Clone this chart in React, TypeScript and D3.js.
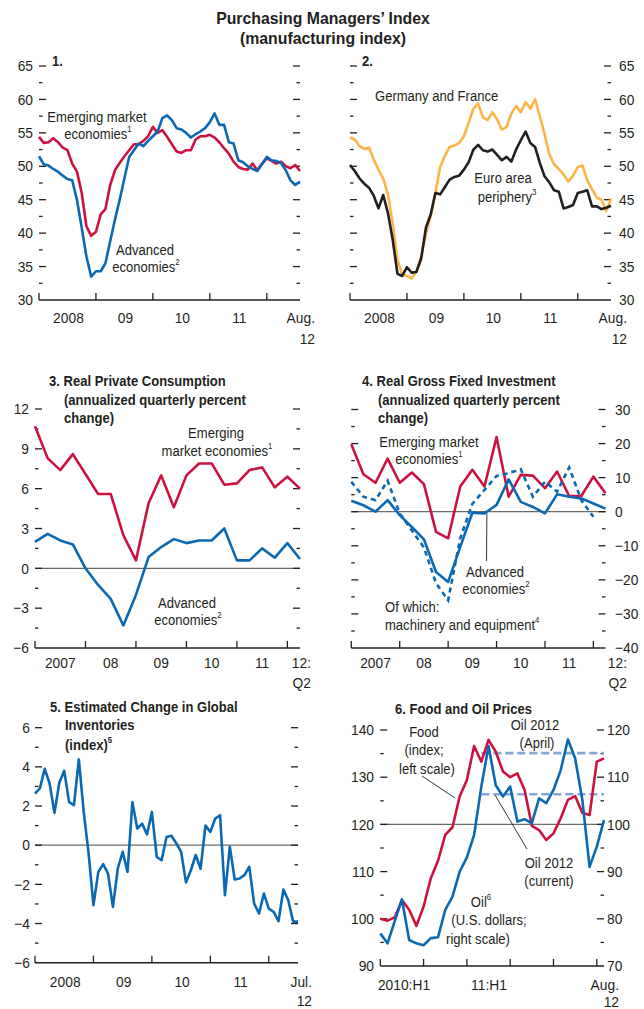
import React from 'react';
import * as d3 from 'd3';

const FONT = "'Liberation Sans', Arial, sans-serif";
const RED = '#CC1340';
const BLUE = '#0B69B3';
const ORANGE = '#FBB448';
const BLACK = '#231F20';
const LIGHTBLUE = '#86A6D9';
const TXT = '#231F20';
const GRID = '#6b6b6b';

// Panel 1 & 2: monthly, Jan 2008 – Aug 2012
const PMI_X_LABELS = ['2008', '09', '10', '11'];
const PMI_ADV = [51.5, 50.3, 50.1, 49.6, 49.2, 48.6, 48.1, 47.9, 45.0, 40.8, 36.5, 33.5, 34.3, 34.3, 35.5, 38.8, 42.0, 45.0, 48.2, 51.4,
  52.4, 53.4, 53.0, 53.8, 54.5, 55.2, 57.2, 57.6, 56.9, 55.7, 55.5, 55.0, 54.3, 54.8, 55.2, 55.7, 56.6, 57.9, 56.2, 56.2,
  53.6, 53.4, 50.9, 50.6, 50.0, 49.6, 49.3, 50.3, 51.4, 50.9, 50.8, 50.5, 49.4, 47.9, 47.2, 47.7];
const PMI_EM = [54.4, 53.5, 53.6, 54.2, 53.6, 52.8, 52.4, 50.4, 49.2, 46.0, 41.0, 39.6, 40.2, 42.8, 43.6, 47.2, 49.4, 50.5, 51.5, 52.4,
  53.3, 53.3, 53.8, 54.5, 55.9, 55.0, 55.4, 54.4, 53.3, 52.2, 52.0, 52.4, 52.4, 54.0, 54.5, 54.5, 54.7, 54.3, 53.6, 52.7,
  51.9, 50.7, 49.9, 49.6, 49.5, 50.4, 49.4, 50.4, 51.2, 50.8, 50.4, 50.7, 50.0, 49.7, 50.2, 49.3];
const PMI_GERFRA = [54.3, 54.0, 53.0, 52.6, 52.8, 51.0, 49.5, 48.2, 45.8, 41.5, 36.0, 33.8, 33.6, 33.2, 34.3, 36.5, 40.0, 42.5, 46.0, 49.9,
  51.6, 52.9, 53.1, 53.5, 54.5, 56.5, 58.6, 59.4, 57.3, 56.9, 58.1, 57.0, 55.5, 55.9, 57.9, 59.0, 58.1, 59.6, 58.6, 60.0,
  57.5, 54.8, 51.8, 50.3, 49.6, 48.8, 47.7, 48.6, 49.9, 50.1, 47.9, 46.6, 45.3, 45.0, 43.3, 45.2];
const PMI_PERIPH = [50.2, 49.3, 48.2, 47.4, 46.8, 45.6, 43.7, 45.7, 43.0, 39.0, 33.9, 33.6, 34.9, 34.1, 34.2, 36.2, 40.8, 42.8, 46.0, 45.8,
  46.9, 48.0, 48.4, 48.6, 49.5, 50.6, 52.5, 53.2, 52.4, 52.2, 52.5, 51.7, 50.9, 51.4, 50.7, 52.5, 53.9, 55.2, 53.5, 52.9,
  50.5, 48.5, 47.6, 46.4, 46.2, 43.7, 43.9, 44.2, 46.0, 46.2, 46.4, 44.0, 44.0, 43.6, 43.8, 44.1];

// Panels 3 & 4: quarterly, 2007:Q1 – 2012:Q2
const Q_X_LABELS = ['2007', '08', '09', '10', '11'];
const CONS_EM = [10.7, 8.3, 7.4, 8.6, 7.1, 5.6, 5.6, 2.5, 0.6, 4.9, 7.0, 4.6, 7.0, 7.9, 7.9, 6.3, 6.4, 7.4, 7.6, 6.1, 6.9, 6.0];
const CONS_ADV = [2.0, 2.6, 2.1, 1.8, 0.0, -1.25, -2.3, -4.3, -2.0, 0.85, 1.6, 2.2, 1.9, 2.1, 2.1, 3.0, 0.6, 0.6, 1.5, 0.8, 1.9, 0.7];
const INV_EM = [19.8, 11.0, 8.5, 15.6, 8.5, 11.5, 8.1, -5.9, -7.8, 7.4, 12.3, 7.4, 21.9, 4.4, 10.8, 10.6, 6.9, 11.8, 4.6, 4.6, 10.3, 5.4];
const INV_ADV = [3.2, 1.9, 0.0, 3.4, -1.0, -4.5, -8.1, -17.7, -20.6, -10.3, -0.3, -0.5, 2.0, 9.5, 2.9, 1.4, -0.5, 5.1, 4.4, 3.9, 2.4, 0.9];
const INV_MACH = [8.8, 4.4, 3.4, 9.1, -0.5, -5.5, -10.5, -21.0, -26.0, -7.8, 2.3, 6.4, 10.5, 11.3, 12.5, 4.4, 8.8, 5.9, 13.0, 3.4, -1.5];

// Panel 5: monthly, Jan 2008 – Jul 2012
const STOCKS = [2.64, 2.9, 3.9, 3.15, 1.65, 3.2, 3.8, 2.2, 2.05, 4.38, 1.7, -0.4, -3.06, -1.36, -0.97, -1.45, -3.15, -1.19, -0.34, -1.36,
  2.2, 0.85, 1.1, 0.55, 1.7, -0.6, -0.77, 0.42, 0.48, 0.1, -0.34, -1.9, -1.28, -0.5, -1.2, 1.0, 0.68, 1.36, 1.53, -2.55,
  -0.08, -1.75, -1.7, -1.53, -1.1, -2.98, -3.49, -2.47, -3.24, -3.4, -3.88, -2.26, -2.81, -3.9, -3.9];

// Panel 6: monthly, Jan 2010 – Aug 2012
const FOOD = [100.0, 99.6, 100.3, 104.0, 101.9, 98.5, 102.6, 108.6, 112.3, 117.8, 119.4, 125.9, 129.4, 136.6, 133.3, 137.9,
  135.4, 131.2, 130.0, 130.8, 127.3, 119.7, 118.8, 116.7, 118.1, 121.3, 125.2, 126.0, 122.4, 122.0, 133.3, 134.0];
const OIL = [76.9, 74.8, 79.5, 84.1, 75.5, 74.8, 74.4, 75.9, 76.1, 81.9, 84.7, 90.0, 93.0, 97.8, 108.0, 116.6,
  108.3, 105.9, 108.0, 100.6, 101.1, 100.2, 105.5, 104.5, 107.3, 111.5, 118.0, 114.0, 105.2, 91.0, 95.3, 100.9];
const OIL_2012_APRIL = 115.1;
const OIL_2012_CURRENT = 106.4;
const OIL_DASH_START = 14;

type Sc = d3.ScaleLinear<number, number>;

const T = (p: any) => {
  const { x, y, anchor = 'middle', bold = false, size = 15, sx = 0.87, children } = p;
  return (
    <text transform={`translate(${x},${y}) scale(${sx},1)`} textAnchor={anchor} dominantBaseline="central" fontFamily={FONT}
      fontSize={size} fontWeight={bold ? 'bold' : 'normal'} fill={TXT}>{children}</text>
  );
};
const Sup = ({ c }: { c: string }) => <tspan dy={-5} fontSize={9}>{c}</tspan>;
const NS = 0.92; // horizontal scale for numeric tick labels

function line(vals: number[], x: Sc, y: Sc, offset = 0) {
  return d3.line<number>().x((_, i) => x(i + offset)).y((d) => y(d))(vals) || '';
}

function fmt(v: number) {
  return v < 0 ? '\u2212' + Math.abs(v) : String(v);
}

function YTicks({ y, lo, hi, step, xL, xR, left, right }: any) {
  const major = d3.range(lo, hi + 1e-9, step);
  const minor = d3.range(lo + step / 2, hi, step);
  const els: any[] = [];
  major.forEach((v, i) => {
    if (v === lo) return;
    els.push(<line key={'lm' + i} x1={xL} x2={xL + 7} y1={y(v)} y2={y(v)} stroke={TXT} strokeWidth={1.3} />);
    els.push(<line key={'rm' + i} x1={xR - 7} x2={xR} y1={y(v)} y2={y(v)} stroke={TXT} strokeWidth={1.3} />);
  });
  minor.forEach((v, i) => {
    els.push(<line key={'ln' + i} x1={xL} x2={xL + 3.5} y1={y(v)} y2={y(v)} stroke={TXT} strokeWidth={1.3} />);
    els.push(<line key={'rn' + i} x1={xR - 3.5} x2={xR} y1={y(v)} y2={y(v)} stroke={TXT} strokeWidth={1.3} />);
  });
  if (left) major.forEach((v, i) => els.push(<T key={'lt' + i} x={left} y={y(v)} anchor="end" sx={NS}>{fmt(v)}</T>));
  if (right) major.forEach((v, i) => els.push(<T key={'rt' + i} x={right} y={y(v)} anchor="start" sx={NS}>{fmt(v)}</T>));
  return <g>{els}</g>;
}

function XAxis({ x0, x1, yb, ticks }: any) {
  return (
    <g>
      <line x1={x0} x2={x1} y1={yb} y2={yb} stroke={TXT} strokeWidth={1.6} />
      {ticks.map((t: number, i: number) => (
        <line key={i} x1={t} x2={t} y1={yb - 7} y2={yb} stroke={TXT} strokeWidth={1.3} />
      ))}
    </g>
  );
}

export default function App() {
  // Panel 1 & 2
  const yP = d3.scaleLinear().domain([30, 65]).range([300, 66]);
  const x1 = d3.scaleLinear().domain([0, 55]).range([39, 300]);
  const x2 = d3.scaleLinear().domain([0, 55]).range([350, 611]);
  const pmiTicks = [0, 12, 24, 36, 48];

  // Panel 3 & 4
  const y3 = d3.scaleLinear().domain([-6, 12]).range([648, 409]);
  const y4 = d3.scaleLinear().domain([-40, 30]).range([648, 409.5]);
  const x3 = d3.scaleLinear().domain([0, 21]).range([35, 300]);
  const x4 = d3.scaleLinear().domain([0, 21]).range([351.3, 605.5]);
  const qTicks = [0, 4, 8, 12, 16, 20];

  // Panel 5
  const y5 = d3.scaleLinear().domain([-6, 6]).range([962.7, 727.7]);
  const x5 = d3.scaleLinear().domain([0, 54]).range([35, 298]);

  // Panel 6
  const y6L = d3.scaleLinear().domain([90, 140]).range([966, 730]);
  const y6R = d3.scaleLinear().domain([70, 120]).range([966, 730]);
  const x6 = d3.scaleLinear().domain([0, 31]).range([380.3, 604]);
  const hTicks = [0, 6, 12, 18, 24, 30];

  const lw = 2.6;

  return (
    <svg width={644} height={1009} style={{ position: 'absolute', left: 0, top: 0, background: '#fff' }}>
      <rect width={644} height={1009} fill="#fff" />
      {/* Main title */}
      <T x={323} y={18} bold size={16} sx={0.99}>Purchasing Managers’ Index</T>
      <T x={323} y={38} bold size={16} sx={0.99}>(manufacturing index)</T>

      {/* Panel 1 */}
      <g>
        <YTicks y={yP} lo={30} hi={65} step={5} xL={39} xR={300} left={33} />
        <XAxis x0={39} x1={300} yb={300} ticks={pmiTicks.map((t) => x1(t))} />
        {PMI_X_LABELS.map((l, i) => <T key={i} x={x1(i * 12 + 6) + 1} y={318} sx={NS}>{l}</T>)}
        <T x={315} y={318} anchor="end" sx={NS}>Aug.</T>
        <T x={315} y={339} anchor="end" sx={NS}>12</T>
        <path d={line(PMI_EM, x1, yP)} fill="none" stroke={RED} strokeWidth={lw} strokeLinejoin="round" />
        <path d={line(PMI_ADV, x1, yP)} fill="none" stroke={BLUE} strokeWidth={lw} strokeLinejoin="round" />
        <T x={52} y={61} anchor="start" bold>1.</T>
        <T x={97} y={116.5}>Emerging market</T>
        <T x={98} y={134}>economies<Sup c="1" /></T>
        <T x={145} y={250}>Advanced</T>
        <T x={146} y={267}>economies<Sup c="2" /></T>
      </g>

      {/* Panel 2 */}
      <g>
        <YTicks y={yP} lo={30} hi={65} step={5} xL={350} xR={611} right={619} />
        <XAxis x0={350} x1={611} yb={300} ticks={pmiTicks.map((t) => x2(t))} />
        {PMI_X_LABELS.map((l, i) => <T key={i} x={x2(i * 12 + 6) + 1} y={318} sx={NS}>{l}</T>)}
        <T x={627} y={318} anchor="end" sx={NS}>Aug.</T>
        <T x={627} y={339} anchor="end" sx={NS}>12</T>
        <path d={line(PMI_GERFRA, x2, yP)} fill="none" stroke={ORANGE} strokeWidth={lw} strokeLinejoin="round" />
        <path d={line(PMI_PERIPH, x2, yP)} fill="none" stroke={BLACK} strokeWidth={lw} strokeLinejoin="round" />
        <T x={362} y={61} anchor="start" bold>2.</T>
        <T x={375} y={96} anchor="start">Germany and France</T>
        <T x={503} y={178}>Euro area</T>
        <T x={507} y={197}>periphery<Sup c="3" /></T>
      </g>

      {/* Panel 3 */}
      <g>
        <line x1={35} x2={300} y1={y3(0)} y2={y3(0)} stroke={GRID} strokeWidth={1.2} />
        <YTicks y={y3} lo={-6} hi={12} step={3} xL={35} xR={300} left={29} />
        <XAxis x0={35} x1={300} yb={648} ticks={qTicks.map((t) => x3(t))} />
        {Q_X_LABELS.map((l, i) => <T key={i} x={x3(i * 4 + 2)} y={663} sx={NS}>{l}</T>)}
        <T x={311} y={663} anchor="end" sx={NS}>12:</T>
        <T x={311} y={683} anchor="end" sx={NS}>Q2</T>
        <path d={line(CONS_EM, x3, y3)} fill="none" stroke={RED} strokeWidth={lw} strokeLinejoin="round" />
        <path d={line(CONS_ADV, x3, y3)} fill="none" stroke={BLUE} strokeWidth={lw} strokeLinejoin="round" />
        <T x={49} y={381} anchor="start" bold>3. Real Private Consumption</T>
        <T x={64} y={399.5} anchor="start" bold>(annualized quarterly percent</T>
        <T x={64} y={418} anchor="start" bold>change)</T>
        <T x={216} y={433}>Emerging</T>
        <T x={217} y={451}>market economies<Sup c="1" /></T>
        <T x={187} y={603}>Advanced</T>
        <T x={188} y={620}>economies<Sup c="2" /></T>
      </g>

      {/* Panel 4 */}
      <g>
        <line x1={351.3} x2={605.5} y1={y4(0)} y2={y4(0)} stroke={GRID} strokeWidth={1.2} />
        <YTicks y={y4} lo={-40} hi={30} step={10} xL={351.3} xR={605.5} right={615} />
        <XAxis x0={351.3} x1={605.5} yb={648} ticks={qTicks.map((t) => x4(t))} />
        {Q_X_LABELS.map((l, i) => <T key={i} x={x4(i * 4 + 2)} y={663} sx={NS}>{l}</T>)}
        <T x={627} y={663} anchor="end" sx={NS}>12:</T>
        <T x={627} y={683} anchor="end" sx={NS}>Q2</T>
        <path d={line(INV_EM, x4, y4)} fill="none" stroke={RED} strokeWidth={lw} strokeLinejoin="round" />
        <path d={line(INV_MACH, x4, y4)} fill="none" stroke={BLUE} strokeWidth={lw} strokeDasharray="5,4" />
        <path d={line(INV_ADV, x4, y4)} fill="none" stroke={BLUE} strokeWidth={lw} strokeLinejoin="round" />
        <T x={362} y={381} anchor="start" bold>4. Real Gross Fixed Investment</T>
        <T x={378} y={399.5} anchor="start" bold>(annualized quarterly percent</T>
        <T x={378} y={418} anchor="start" bold>change)</T>
        <T x={429} y={441.5}>Emerging market</T>
        <T x={429} y={459}>economies<Sup c="1" /></T>
        <line x1={x4(11.2)} y1={y4(-0.5)} x2={486.5} y2={561} stroke={TXT} strokeWidth={0.9} />
        <T x={495} y={572}>Advanced</T>
        <T x={496} y={589}>economies<Sup c="2" /></T>
        <T x={385} y={607} anchor="start">Of which:</T>
        <T x={385} y={625} anchor="start">machinery and equipment<Sup c="4" /></T>
      </g>

      {/* Panel 5 */}
      <g>
        <line x1={35} x2={298} y1={y5(0)} y2={y5(0)} stroke={GRID} strokeWidth={1.2} />
        <YTicks y={y5} lo={-6} hi={6} step={2} xL={35} xR={298} left={30} />
        <XAxis x0={35} x1={298} yb={962.7} ticks={pmiTicks.map((t) => x5(t))} />
        {PMI_X_LABELS.map((l, i) => <T key={i} x={x5(i * 12 + 6) + 1} y={982} sx={NS}>{l}</T>)}
        <T x={312} y={982} anchor="end" sx={NS}>Jul.</T>
        <T x={312} y={1001} anchor="end" sx={NS}>12</T>
        <path d={line(STOCKS, x5, y5)} fill="none" stroke={BLUE} strokeWidth={lw} strokeLinejoin="round" />
        <T x={50} y={707} anchor="start" bold>5. Estimated Change in Global</T>
        <T x={65} y={725} anchor="start" bold>Inventories</T>
        <T x={65} y={745} anchor="start" bold>(index)<Sup c="5" /></T>
      </g>

      {/* Panel 6 */}
      <g>
        <line x1={380.3} x2={604} y1={y6L(120)} y2={y6L(120)} stroke={GRID} strokeWidth={1.2} />
        <YTicks y={y6L} lo={90} hi={140} step={10} xL={380.3} xR={604} left={374} />
        {d3.range(70, 121, 10).map((v, i) => <T key={i} x={607} y={y6R(v)} anchor="start" sx={NS}>{v}</T>)}
        <XAxis x0={380.3} x1={604} yb={966} ticks={hTicks.map((t) => x6(t))} />
        <T x={404} y={985} sx={NS}>2010:H1</T>
        <T x={489} y={985} sx={NS}>11:H1</T>
        <T x={619} y={985} anchor="end" sx={NS}>Aug.</T>
        <T x={619} y={1002} anchor="end" sx={NS}>12</T>
        <line x1={x6(OIL_DASH_START)} x2={604} y1={y6R(OIL_2012_APRIL)} y2={y6R(OIL_2012_APRIL)} stroke={LIGHTBLUE} strokeWidth={2.6} strokeDasharray="8,4" />
        <line x1={x6(OIL_DASH_START)} x2={604} y1={y6R(OIL_2012_CURRENT)} y2={y6R(OIL_2012_CURRENT)} stroke={LIGHTBLUE} strokeWidth={2.6} strokeDasharray="8,4" />
        <path d={line(FOOD, x6, y6L)} fill="none" stroke={RED} strokeWidth={lw} strokeLinejoin="round" />
        <path d={line(OIL, x6, y6R)} fill="none" stroke={BLUE} strokeWidth={lw} strokeLinejoin="round" />
        <T x={395} y={709} anchor="start" bold>6. Food and Oil Prices</T>
        <T x={424} y={732}>Food</T>
        <T x={424} y={750}>(index;</T>
        <T x={427} y={769}>left scale)</T>
        <line x1={422} y1={776} x2={455} y2={798} stroke={TXT} strokeWidth={0.9} />
        <T x={535} y={725}>Oil 2012</T>
        <T x={537} y={743}>(April)</T>
        <line x1={495} y1={795} x2={527} y2={849} stroke={TXT} strokeWidth={0.9} />
        <T x={549} y={863}>Oil 2012</T>
        <T x={549} y={881}>(current)</T>
        <T x={481} y={902}>Oil<Sup c="6" /></T>
        <T x={489} y={920}>(U.S. dollars;</T>
        <T x={478} y={939}>right scale)</T>
      </g>
    </svg>
  );
}
